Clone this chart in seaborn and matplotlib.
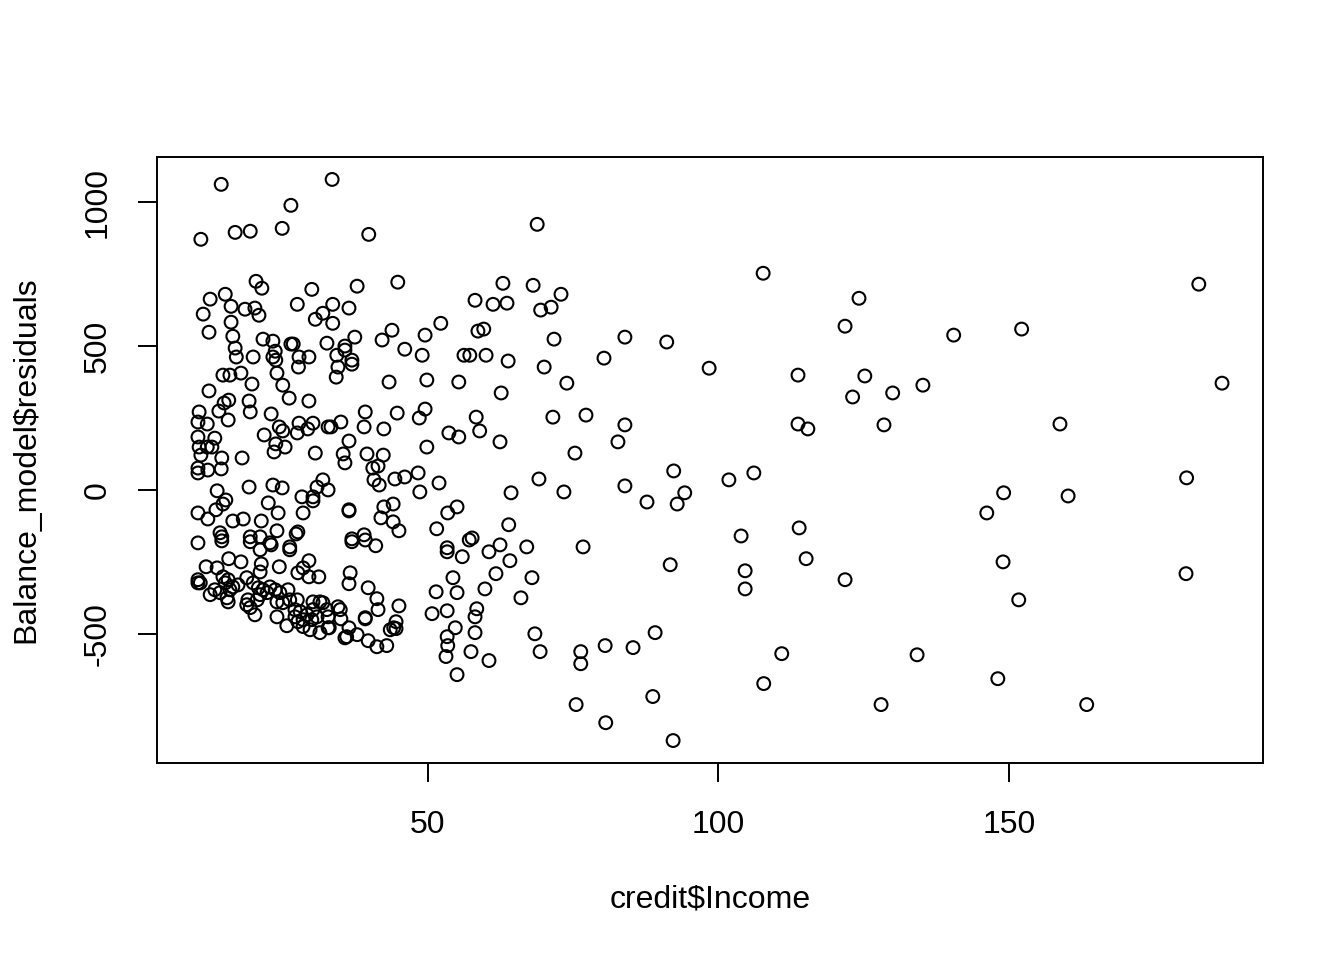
import numpy as np
import pandas as pd
import seaborn as sns
from matplotlib import pyplot as plt

# income (x) and residual (y), grouped by region
income_high = [68.8, 107.7, 182.7, 124.2, 121.8, 125.2, 123.1, 113.7, 113.7, 115.4,
               152.2, 140.5, 130.0, 135.2, 128.5, 158.8, 186.7, 180.6, 149.1, 146.2,
               160.2, 149.0, 180.5, 151.7, 134.2, 148.1, 128.0, 163.4, 113.9, 103.9,
               115.1, 104.6, 104.6, 121.8, 110.9, 107.8, 106.1, 101.8, 92.3, 94.2,
               92.9, 87.7, 83.9, 69.1, 64.3, 73.4, 75.3, 91.7, 89.1, 85.3,
               80.5, 76.3, 76.3, 88.7, 75.5, 80.6, 92.2, 76.7, 69.3, 68.4,
               60.5, 57.4, 58.1, 58.4, 58.1, 66.0, 59.8, 67.9, 61.7, 64.1,
               60.5, 62.4, 67.0, 63.9, 57.6, 58.1, 62.9, 68.1, 72.9, 61.2,
               63.6, 71.2, 69.4, 58.6, 59.6, 71.7, 83.9, 91.1, 57.2, 60.0,
               63.8, 70.0, 80.3, 98.4, 73.9, 62.6, 58.3, 58.9, 62.4, 71.5,
               77.2, 83.9, 82.7]
resid_high = [923, 753, 715, 666, 569, 396, 323, 399, 229, 212,
              559, 538, 337, 364, 226, 229, 371, 42, -10, -80,
              -21, -250, -291, -382, -573, -656, -746, -746, -132, -160,
              -239, -281, -344, -312, -569, -673, 59, 35, 66, -10,
              -49, -42, 14, 38, -10, -7, 128, -260, -496, -548,
              -541, -562, -604, -718, -746, -809, -871, -198, -562, -500,
              -593, -562, -496, -413, -441, -375, -344, -305, -291, -246,
              -215, -191, -198, -121, -167, 659, 718, 711, 680, 645,
              649, 635, 625, 552, 559, 524, 531, 514, 468, 468,
              448, 427, 458, 423, 371, 337, 253, 205, 167, 253,
              260, 226, 167]

income_upper = [14.4, 26.4, 10.9, 16.8, 19.4, 24.9, 33.5, 20.4, 21.4, 30.0,
                15.1, 12.5, 16.1, 27.5, 11.3, 18.5, 20.2, 20.9, 16.1, 31.9,
                30.6, 12.3, 16.4, 21.6, 23.3, 26.4, 26.8, 16.8, 23.7, 32.6,
                39.8, 37.8, 44.8, 33.6, 36.4, 33.6, 52.2, 43.8, 42.1, 49.5,
                37.4, 35.7, 46.0, 49.0, 56.2, 34.3, 36.9, 17.0, 19.9, 23.3,
                23.8, 27.8, 29.5, 27.7, 24.0, 14.7, 15.9, 17.8, 19.7, 25.0,
                12.3, 26.1, 29.5, 15.7, 14.9, 19.2, 14.0, 10.6, 19.4, 23.0,
                15.6, 10.4, 12.0, 27.8, 30.2, 32.8, 24.4, 25.0, 27.5, 29.3,
                21.8, 10.4, 13.3, 23.8, 25.4, 10.6, 12.8, 12.0, 23.5, 10.9,
                14.5, 18.0, 30.6, 10.4, 10.4, 12.1, 14.4, 31.9, 30.9, 19.2,
                23.3, 24.9, 35.7, 34.5, 36.9, 34.2, 43.3, 49.8, 55.3, 39.2,
                44.7, 49.5, 48.5, 35.0, 33.3, 39.0, 42.4, 53.6, 55.3, 36.4,
                49.8, 35.4, 35.7, 39.5, 42.3, 40.5, 41.4, 40.7, 41.6, 44.3,
                46.0, 48.3, 51.9, 48.6, 32.8]
resid_upper = [1062, 989, 871, 895, 899, 909, 1079, 725, 701, 697,
               680, 663, 638, 645, 611, 628, 632, 607, 583, 614,
               593, 548, 534, 524, 517, 507, 507, 493, 482, 510,
               888, 708, 722, 645, 632, 579, 579, 555, 521, 538,
               531, 500, 489, 468, 468, 468, 451, 462, 462, 462,
               451, 462, 462, 427, 406, 399, 399, 406, 368, 364,
               344, 319, 309, 312, 302, 309, 274, 271, 271, 264,
               243, 236, 229, 232, 232, 219, 219, 205, 198, 212,
               191, 184, 180, 160, 149, 149, 149, 149, 132, 121,
               111, 111, 128, 76, 59, 69, 73, 35, 10, 10,
               17, 7, 486, 427, 437, 392, 375, 382, 375, 271,
               267, 281, 250, 236, 219, 219, 212, 198, 184, 170,
               149, 125, 94, 125, 121, 76, 83, 35, 17, 38,
               45, 59, 24, -7, 0]

income_lower = [13.7, 28.3, 30.2, 30.2, 15.2, 14.7, 22.5, 10.4, 13.5, 12.1,
                24.2, 28.5, 16.4, 18.2, 21.3, 24.0, 14.2, 14.5, 19.4, 21.1,
                27.6, 27.3, 10.4, 22.8, 26.2, 36.4, 36.4, 42.4, 44.0, 41.9,
                44.0, 45.0, 53.4, 55.0, 51.5, 36.9, 39.0, 41.0, 57.1, 53.3,
                14.5, 19.4, 21.1, 23.0, 26.2, 15.7, 17.8, 21.3, 29.5, 24.4,
                11.8, 13.7, 27.6, 28.5, 31.2, 29.5, 21.1, 10.4, 10.8, 10.4,
                14.7, 15.6, 16.4, 15.1, 15.9, 13.3, 12.5, 17.3, 18.8, 19.9,
                20.8, 21.6, 22.8, 23.7, 24.5, 25.9, 26.2, 25.0, 24.0, 14.2,
                15.4, 15.6, 19.0, 18.8, 19.4, 20.2, 21.1, 20.6, 22.3, 24.0,
                27.5, 27.1, 25.7, 27.1, 27.6, 29.2, 30.0, 28.5, 29.7, 31.4,
                30.2, 31.4, 31.9, 32.6, 32.8, 30.9, 30.2, 28.0, 28.5, 36.9,
                39.2, 53.3, 55.9, 36.6, 36.4, 39.7, 41.2, 41.4, 45.0, 54.3,
                51.4, 55.0, 34.5, 34.9, 32.8, 35.0, 39.2, 39.2, 33.0, 36.4,
                36.0, 35.7, 37.8, 39.7, 41.2, 42.9, 44.5, 44.1, 43.5, 44.5,
                50.7, 53.3, 54.7, 53.3, 53.4, 53.1, 55.0]
resid_lower = [-3, -24, -24, -38, -35, -49, -45, -80, -69, -101,
               -80, -80, -108, -101, -108, -142, -149, -163, -163, -163,
               -146, -153, -184, -184, -198, -69, -73, -59, -49, -97,
               -111, -142, -80, -59, -135, -170, -156, -194, -174, -201,
               -177, -180, -208, -191, -208, -239, -250, -257, -246, -267,
               -267, -271, -288, -271, -302, -302, -285, -312, -323, -323,
               -302, -312, -337, -323, -347, -347, -364, -330, -305, -323,
               -340, -347, -337, -347, -357, -347, -382, -392, -389, -357,
               -375, -389, -382, -399, -409, -434, -364, -382, -357, -441,
               -382, -416, -472, -441, -458, -434, -451, -475, -486, -496,
               -389, -389, -392, -416, -479, -441, -416, -423, -451, -180,
               -174, -215, -232, -288, -326, -340, -378, -416, -403, -305,
               -354, -357, -406, -416, -441, -448, -444, -448, -479, -479,
               -510, -514, -503, -524, -545, -541, -458, -479, -486, -482,
               -430, -420, -479, -510, -541, -579, -642]

df = pd.DataFrame({
    "income": income_high + income_upper + income_lower,
    "resid": resid_high + resid_upper + resid_lower,
})

sns.set_style("white")
plt.rcParams["font.family"] = ["Liberation Sans", "DejaVu Sans"]
plt.rcParams["axes.unicode_minus"] = False
plt.rcParams["text.color"] = "black"
plt.rcParams["axes.labelcolor"] = "black"

fig = plt.figure(figsize=(13.44, 9.6), dpi=100)
ax = fig.add_axes([157 / 1344, 197 / 960, 1106 / 1344, 606 / 960])

sns.scatterplot(data=df, x="income", y="resid", ax=ax, marker="o", s=85,
                facecolors="none", edgecolor="black", linewidth=1.5)

# R style limits: data range padded by 4% each side
xr = df["income"].max() - df["income"].min()
yr = df["resid"].max() - df["resid"].min()
ax.set_xlim(df["income"].min() - 0.04 * xr, df["income"].max() + 0.04 * xr)
ax.set_ylim(df["resid"].min() - 0.04 * yr, df["resid"].max() + 0.04 * yr)

ax.set_xticks([50, 100, 150])
ax.set_yticks([-500, 0, 500, 1000])
ax.tick_params(axis="both", direction="out", length=14, width=1.4,
               color="black", labelsize=23, labelcolor="black", bottom=True, left=True)
ax.tick_params(axis="x", pad=20)
ax.tick_params(axis="y", pad=18)
for lab in ax.get_yticklabels():
    lab.set_rotation(90)
    lab.set_va("center")

for sp in ax.spines.values():
    sp.set_visible(True)
    sp.set_color("black")
    sp.set_linewidth(1.4)

ax.set_xlabel("credit$Income", fontsize=23, color="black")
ax.set_ylabel("Balance_model$residuals", fontsize=23, color="black")
ax.xaxis.set_label_coords(0.5, -0.226)
ax.xaxis.label.set_va("center")
ax.yaxis.set_label_coords(-0.118, 0.5)
ax.yaxis.label.set_va("center")

fig.savefig("out.png", dpi=100, facecolor="white")
